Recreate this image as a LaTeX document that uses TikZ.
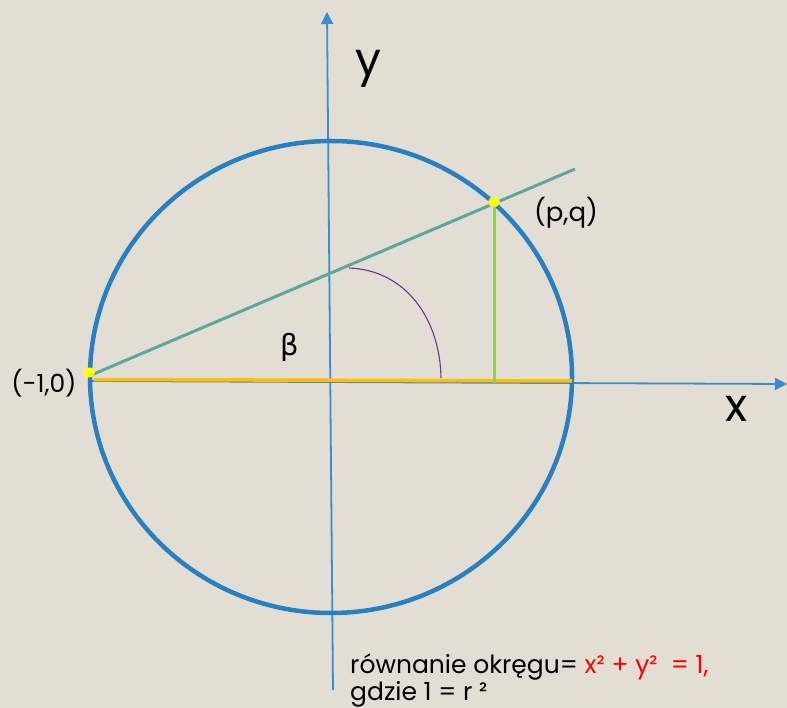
\documentclass[tikz,border=0pt]{standalone}
\usepackage{fontspec}
\setmainfont{Poppins}
\newfontfamily\grfont{DejaVu Sans}
\usetikzlibrary{arrows.meta}
\definecolor{bg}{RGB}{227,222,211}
\definecolor{circblue}{RGB}{40,128,196}
\definecolor{axblue}{RGB}{58,141,208}
\definecolor{teal}{RGB}{91,167,158}
\definecolor{gold}{RGB}{255,190,0}
\definecolor{lgreen}{RGB}{146,208,80}
\definecolor{purp}{RGB}{112,48,160}
\definecolor{dotyellow}{RGB}{255,255,0}
\definecolor{eqred}{RGB}{255,0,0}
\begin{document}
\begin{tikzpicture}[x=1pt,y=-1pt,
  axis/.style={draw=axblue,line width=1.8pt,-{Triangle[length=12pt,width=12pt]}},
  lbl/.style={inner sep=0pt,text=black},
  dotmark/.style={fill=dotyellow,draw=none}]
\fill[bg] (0,0) rectangle (787,708);
\useasboundingbox (0,0) rectangle (787,708);
% coordinates
\coordinate (O) at (331,377);
\coordinate (A) at (89,376);
\coordinate (P) at (494,202);
\coordinate (T) at (575,169);
\coordinate (Xs) at (90,381);
\coordinate (Xe) at (787,384);
\coordinate (Ys) at (333,690);
\coordinate (Ye) at (327,12);
\coordinate (Yr) at (572,381);
\coordinate (F) at (494,383);
\coordinate (ArcS) at (349,268);
\coordinate (ArcE) at (441,378);
% axes
\draw[axis] (Xs) -- (Xe);
\draw[axis] (Ys) -- (Ye);
% circle
\draw[circblue,line width=4.5pt] (O) ellipse [x radius=241,y radius=236];
% teal secant
\draw[teal,line width=3pt] (A) -- (T);
% gold diameter
\draw[gold,line width=3.5pt] (94,379.5) -- (Yr);
% green vertical
\draw[lgreen,line width=3pt] (F) -- (494,206);
% purple arc
\draw[purp,line width=1.1pt] (ArcS) .. controls (405,270) and (440,318) .. (ArcE);
% yellow dots
\fill[dotmark] (89,372.5) ellipse [x radius=6,y radius=5];
\fill[dotmark] (P) ellipse [x radius=6,y radius=5];
% labels
\node[lbl,font=\fontsize{46}{48}\selectfont,anchor=base] (ylab) at (368,76) {y};
\node[lbl,font=\fontsize{46}{48}\selectfont,anchor=base] (xlab) at (737,421) {x};
\node[lbl,font=\fontsize{29}{30}\selectfont\grfont,anchor=base] (beta) at (290,356) {β};
\node[lbl,font=\fontsize{26}{28}\selectfont,anchor=base] (pq) at (566,222) {(p,q)};
\node[lbl,font=\fontsize{25}{28}\selectfont,anchor=base] (m10) at (44,392) {(-1,0)};
\node[lbl,font=\fontsize{25}{28}\selectfont,anchor=base west] (eq1) at (350,673) {równanie okręgu= \textcolor{eqred}{x² + y²\ \ = 1,}};
\node[lbl,font=\fontsize{25}{28}\selectfont,anchor=base west] (eq2) at (350,700) {gdzie 1 = r ²};
\end{tikzpicture}
\end{document}
